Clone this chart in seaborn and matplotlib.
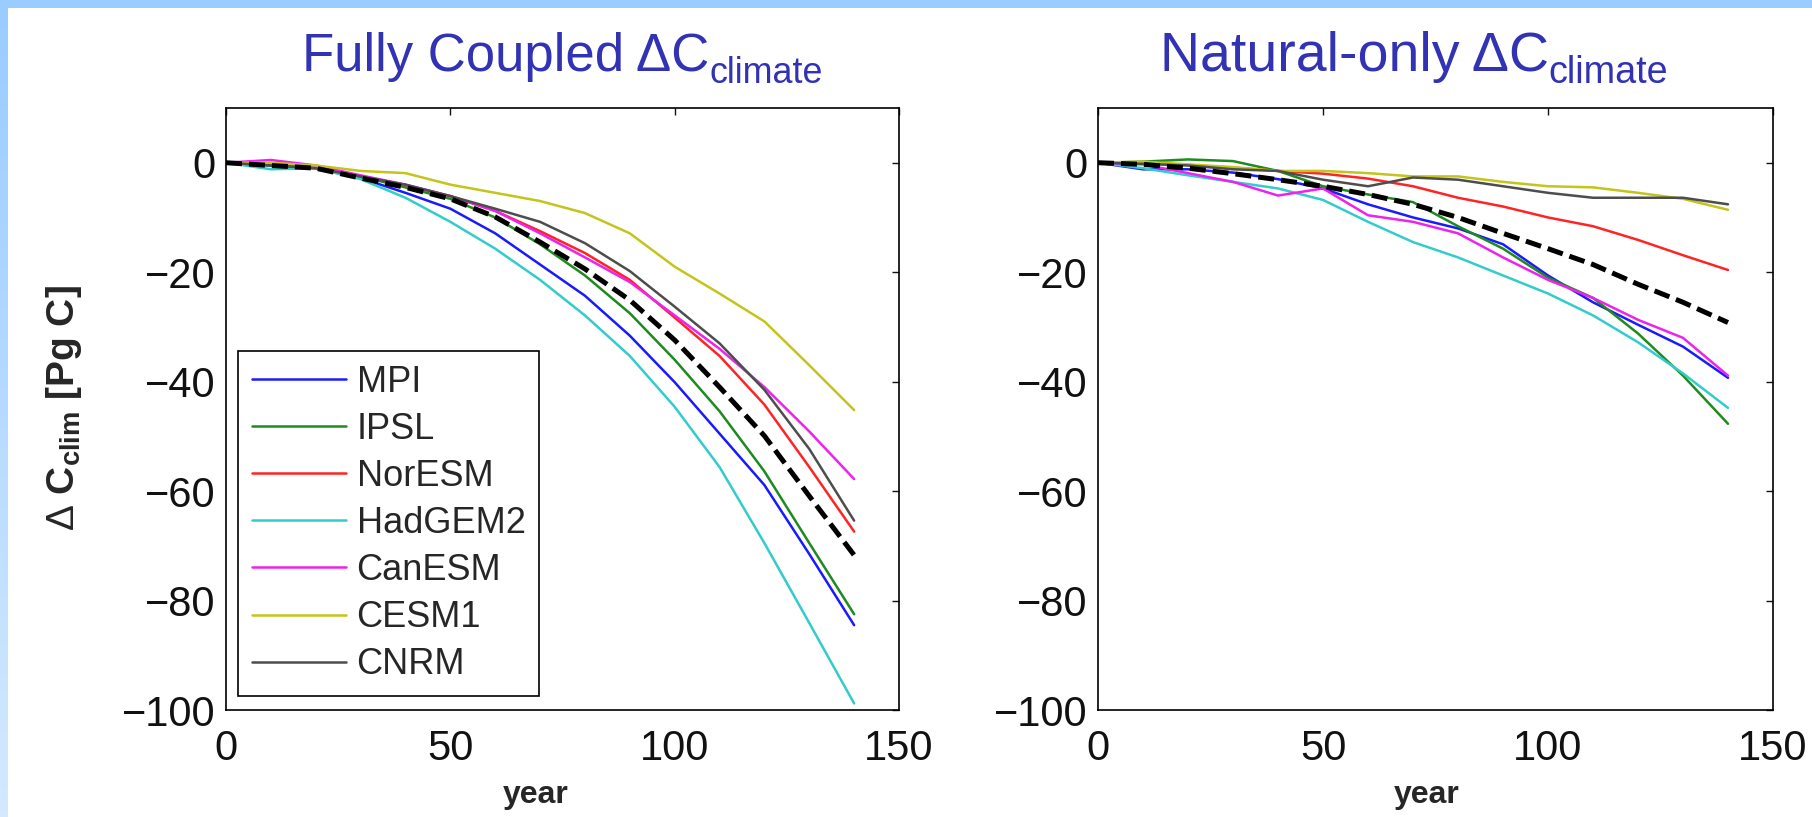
import numpy as np
import pandas as pd
import seaborn as sns
import matplotlib.pyplot as plt
from matplotlib.patches import Rectangle
from matplotlib.lines import Line2D
from matplotlib.transforms import offset_copy

# values, every 10 years
years = [0, 10, 20, 30, 40, 50, 60, 70, 80, 90, 100, 110, 120, 130, 140]
models = ['MPI', 'IPSL', 'NorESM', 'HadGEM2', 'CanESM', 'CESM1', 'CNRM']
colors = ['#1a1aff', '#1f8a1f', '#ff2424', '#33cccc', '#ee22ee', '#c4c41c', '#4d4d4d']

# Fully coupled
mpi_c = [0, -0.5, -1, -2.8, -5.5, -8.4, -12.9, -18.6, -24.3, -31.6, -40.1, -49.5, -58.9, -71.5, -84.5]
ipsl_c = [0, -0.5, -1, -2.5, -4.5, -6.6, -10, -14.9, -20.6, -27.5, -36, -45.4, -56.4, -69.5, -82.5]
noresm_c = [0, -0.3, -1, -2.5, -4.1, -6.1, -8.8, -12.5, -16.5, -21.4, -28.3, -35.3, -44.2, -55.6, -67.4]
hadgem_c = [0, -1.2, -1, -3, -6.4, -10.8, -15.7, -21.4, -27.9, -35.3, -44.6, -55.6, -69.5, -84.1, -98.8]
canesm_c = [0, 0.5, -0.5, -2.3, -4, -6.1, -8.8, -12.9, -17.3, -21.8, -27.9, -34, -41, -49.1, -57.8]
cesm_c = [0, 0, -0.5, -1.5, -1.9, -4, -5.5, -7, -9.2, -12.9, -19, -23.9, -29, -37, -45.2]
cnrm_c = [0, -0.5, -1, -2.5, -4, -6.1, -8.4, -10.8, -14.7, -19.8, -26.3, -33, -41.5, -52.3, -65.4]
mean_c = [0, -0.5, -1, -2.8, -4.5, -6.6, -9.9, -14.5, -19.4, -25.1, -32.4, -41, -49.9, -60.9, -71.7]

# Natural-only
mpi_n = [0, -1.2, -1.2, -1.8, -3, -4.7, -7.6, -10, -12, -14.9, -20.6, -25.5, -29.6, -33.6, -39.3]
ipsl_n = [0, 0.2, 0.6, 0.3, -1.5, -4.3, -5.8, -7.2, -11.6, -15.7, -21, -24.7, -31.2, -38.9, -47.7]
noresm_n = [0, -0.2, -0.4, -0.9, -1.5, -2, -2.9, -4.3, -6.4, -8, -10, -11.6, -14.1, -16.9, -19.6]
hadgem_n = [0, -1, -2.3, -3.5, -4.7, -6.8, -10.8, -14.5, -17.3, -20.6, -23.9, -27.9, -32.8, -38.5, -44.8]
canesm_n = [0, -0.3, -1.9, -3.5, -6, -4.7, -9.6, -10.8, -12.9, -17.3, -21.4, -24.7, -28.7, -32, -38.9]
cesm_n = [0, 0.2, -0.3, -0.8, -1.5, -1.5, -1.9, -2.5, -2.5, -3.5, -4.3, -4.5, -5.5, -6.6, -8.6]
cnrm_n = [0, -0.2, -0.5, -1.2, -1.5, -3.1, -4.3, -2.7, -3.1, -4.3, -5.5, -6.4, -6.4, -6.4, -7.6]
mean_n = [0, -0.3, -1, -2, -3.1, -4.3, -5.8, -7.6, -10, -12.9, -15.7, -18.6, -22.2, -25.5, -29.2]

coupled = [mpi_c, ipsl_c, noresm_c, hadgem_c, canesm_c, cesm_c, cnrm_c]
natural = [mpi_n, ipsl_n, noresm_n, hadgem_n, canesm_n, cesm_n, cnrm_n]


def long_df(series):
    rows = []
    for m, vals in zip(models, series):
        for y, v in zip(years, vals):
            rows.append((y, v, m))
    return pd.DataFrame(rows, columns=['year', 'value', 'model'])


sns.set_style('white')
plt.rcParams['font.family'] = ['Liberation Sans', 'DejaVu Sans']
plt.rcParams['mathtext.fontset'] = 'custom'
plt.rcParams['mathtext.rm'] = 'Liberation Sans'
plt.rcParams['mathtext.it'] = 'Liberation Sans:italic'
plt.rcParams['mathtext.bf'] = 'Liberation Sans:bold'

W, H = 1812, 817
fig = plt.figure(figsize=(W / 100, H / 100), dpi=100)
fig.patch.set_facecolor('white')

# slide decoration: blue band on top and gradient band on the left
band = fig.add_axes([0, 0, 8 / W, 1])
grad = np.linspace(0, 1, 200)[:, None]
top_c = np.array([0x99, 0xcc, 0xff]) / 255
bot_c = np.array([0xd4, 0xe9, 0xff]) / 255
img = top_c[None, None, :] * (1 - grad[:, :, None]) + bot_c[None, None, :] * grad[:, :, None]
band.imshow(img, aspect='auto')
band.axis('off')
fig.add_artist(Rectangle((0, 1 - 8 / H), 1, 8 / H, transform=fig.transFigure,
                         color='#99ccff', lw=0))

ax1 = fig.add_axes([226 / W, (H - 710) / H, 673 / W, 602 / H])
ax2 = fig.add_axes([1098 / W, (H - 710) / H, 675 / W, 602 / H])

palette = dict(zip(models, colors))
title_col = '#3232b4'
titles = []

for ax, series, mean, head, cx, fs, xl in [
        (ax1, coupled, mean_c, 'Fully Coupled ΔC', 0.5, 38, 0.46),
        (ax2, natural, mean_n, 'Natural-only ΔC', 0.468, 40, 0.487)]:
    df = long_df(series)
    sns.lineplot(data=df, x='year', y='value', hue='model', hue_order=models,
                 palette=palette, linewidth=1.8, legend=False, ax=ax)
    sns.lineplot(x=years, y=mean, color='black', linewidth=3.6, ax=ax)
    ax.lines[-1].set_dashes((3.2, 1.4))

    ax.set_xlim(0, 150)
    ax.set_ylim(-100, 10)
    ax.set_xticks([0, 50, 100, 150])
    ax.set_yticks([-100, -80, -60, -40, -20, 0])
    ax.tick_params(direction='in', top=True, right=True, length=5, width=1,
                   labelsize=30, colors='#111111')
    ax.tick_params(axis='x', pad=14)
    ax.tick_params(axis='y', pad=7.5)
    for s in ax.spines.values():
        s.set_color('black')
        s.set_linewidth(1.2)
    ax.set_xlabel('')
    ax.set_ylabel('')
    ax.text(xl, -0.141, 'year', transform=ax.transAxes, ha='center', va='center',
            fontsize=23, fontweight='bold')

    yb = (710 - 71) / 602
    t_main = ax.text(0, yb, head, transform=ax.transAxes, ha='left', va='baseline',
                     fontsize=fs, color=title_col)
    t_sub = ax.text(0, yb, 'climate', ha='left', va='baseline',
                    transform=offset_copy(ax.transAxes, fig, x=0, y=-12, units='dots'),
                    fontsize=fs * 0.68, color=title_col)
    titles.append((ax, t_main, t_sub, cx))

fig.text(64 / W, 0.5, r'$\Delta$ C$_{\mathbf{clim}}$ [Pg C]', rotation=90,
         ha='center', va='center', fontsize=28, fontweight='bold')

handles = [Line2D([], [], color=c, lw=1.8) for c in colors]
leg = ax1.legend(handles, models, loc='lower left', bbox_to_anchor=(0.018, 0.0233),
                 borderaxespad=0, fontsize=26, frameon=True, fancybox=False,
                 framealpha=1, edgecolor='black', handlelength=2.6,
                 handletextpad=0.3, labelspacing=0.335, borderpad=0.38)
leg.get_frame().set_linewidth(1.2)

# center main title + subscript together over each panel
fig.canvas.draw()
r = fig.canvas.get_renderer()
for ax, t_main, t_sub, cx in titles:
    wm = t_main.get_window_extent(r).width
    ws = t_sub.get_window_extent(r).width
    aw = ax.get_window_extent(r).width
    x0 = cx - (wm + ws) / 2 / aw
    t_main.set_x(x0)
    t_sub.set_x(x0 + wm / aw)

fig.savefig('out.png', dpi=100)
